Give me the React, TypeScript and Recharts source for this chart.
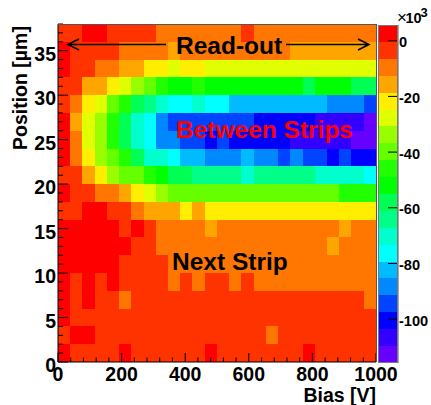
import { Bar, BarChart, XAxis, YAxis } from 'recharts';

const FONT = '"Liberation Sans", Arial, sans-serif';

// z values in units of 10^3, one row per 2 um of position, one entry per bias bin
const row00 = [3, -3, -3, -3, -3, 3, -3, -3, -3, -3, -3, -3, 3, -3, -3, -3, -3, -3, -3, -3, 3, -3, -3, -3, -3, -3];
const row02 = [-3, 3, 3, -3, -3, -3, -3, -3, -3, -3, -3, -3, -3, -3, -3, -3, -3, -9, -3, -3, -3, -3, -3, -3, -3, -3];
const row04 = [3, -3, -3, -3, -3, -3, -3, -3, -3, -3, -3, -3, -3, -3, -3, -3, -3, -3, -3, -3, -3, -3, -3, -3, -3, -3];
const row06 = [3, -3, 3, -3, -3, -9, -3, -3, -3, -3, -3, -3, -3, -3, -3, -3, -3, -3, -3, -3, -3, -3, -3, -3, -3, -9];
const row08 = [3, -3, 3, -3, 3, -3, -3, -3, -3, -9, -3, -9, -3, -3, -9, -3, -9, -9, -9, -9, -9, -9, -9, -9, -9, -9];
const row10 = [3, 3, 3, 3, 3, -3, -3, -3, -3, -9, -9, -9, -9, -9, -9, -9, -9, -9, -9, -9, -9, -9, -9, -9, -9, -9];
const row12 = [3, 3, 3, 3, 3, 3, -3, -3, -9, -9, -9, -9, -9, -9, -9, -9, -9, -9, -9, -9, -9, -9, -15, -9, -9, -9];
const row14 = [3, 3, 3, 3, 3, -3, 3, -3, -9, -9, -9, -9, -15, -9, -9, -9, -9, -9, -9, -9, -9, -9, -9, -15, -9, -9];
const row16 = [-3, -3, 3, 3, -3, -3, -9, -15, -15, -15, -21, -15, -21, -21, -21, -21, -21, -21, -21, -21, -21, -21, -21, -21, -21, -21];
const row18 = [3, -3, -3, -9, -9, -15, -21, -27, -33, -39, -39, -39, -39, -39, -39, -39, -39, -39, -39, -39, -39, -39, -39, -45, -45, -45];
const row20 = [-3, -3, -15, -21, -33, -39, -39, -45, -51, -57, -57, -63, -63, -63, -63, -69, -63, -63, -63, -63, -63, -69, -69, -69, -69, -75];
const row22 = [3, -9, -21, -33, -39, -45, -57, -69, -69, -75, -81, -81, -87, -87, -87, -81, -87, -87, -93, -87, -93, -93, -99, -93, -99, -99];
const row24 = [3, -9, -27, -33, -45, -57, -69, -75, -87, -87, -93, -93, -99, -93, -99, -99, -99, -99, -99, -105, -105, -105, -105, -105, -111, -111];
const row26 = [3, -15, -27, -33, -45, -57, -69, -75, -87, -93, -93, -93, -93, -93, -93, -93, -99, -99, -99, -99, -99, -105, -105, -105, -105, -111];
const row28 = [-3, -9, -21, -27, -39, -45, -57, -63, -69, -75, -75, -69, -75, -75, -81, -81, -81, -81, -81, -81, -81, -81, -87, -87, -87, -93];
const row30 = [-3, -3, -15, -15, -21, -27, -33, -39, -45, -51, -51, -45, -51, -51, -51, -51, -51, -51, -51, -51, -57, -51, -51, -51, -57, -57];
const row32 = [3, -3, -3, -9, -9, -15, -15, -21, -21, -27, -21, -21, -27, -27, -27, -27, -27, -27, -27, -27, -27, -27, -27, -27, -27, -27];
const row34 = [3, -3, -3, -3, -3, -9, -9, -9, -9, -15, -9, -9, -9, -9, -9, -9, -9, -9, -9, -15, -15, -15, -15, -15, -15, -15];
const row36 = [-3, -3, 3, 3, -3, -3, -3, -3, -9, -9, -9, -9, -9, -9, -9, -3, -9, -9, -9, -9, -9, -9, -9, -9, -9, -9];

const positionRows = [row00, row02, row04, row06, row08, row10, row12, row14, row16, row18, row20, row22, row24, row26, row28, row30, row32, row34, row36];

const binWidth = 1000 / 26;
const biasBins = row00.map((_, i) => ({ bias: (i + 0.5) * binWidth }));

const palette = [
  '#ff0000', '#ff3300', '#ff7700', '#ffa500', '#ffee00', '#e0ff00', '#99ff00', '#66ff00', '#22ff00', '#00ff00',
  '#00ff55', '#00ff88', '#00ffcc', '#00ffff', '#00bbff', '#0088ff', '#0044ff', '#0000ff', '#3300ff', '#6600ff',
];

const rowHeight = 2;
const zStep = 6.07;
const zMax = 5.65;
const zMin = zMax - zStep * palette.length;

const biasTicks = [0, 40, 80, 120, 160, 200, 240, 280, 320, 360, 400, 440, 480, 520, 560, 600, 640, 680, 720, 760, 800, 840, 880, 920, 960, 1000];
const positionTicks = [0, 1, 2, 3, 4, 5, 6, 7, 8, 9, 10, 11, 12, 13, 14, 15, 16, 17, 18, 19, 20, 21, 22, 23, 24, 25, 26, 27, 28, 29, 30, 31, 32, 33, 34, 35, 36, 37, 38];
const zTicks = [0, -20, -40, -60, -80, -100];

const mapWidthPx = 318;

const colorOf = (z: number) => palette[Math.min(palette.length - 1, Math.max(0, Math.floor((zMax - z) / zStep)))];

// the bar width recharts gives is floored, so size the cell from its centre and snap it to whole pixels
function PixelCell({ x, y, width, height, fill, fullWidth }: any) {
  const centre = x + width / 2;
  const w = fullWidth ?? width;
  const left = Math.round(centre - w / 2);
  const right = Math.round(centre + w / 2);
  const top = Math.round(Math.min(y, y + height));
  const bottom = Math.round(Math.max(y, y + height));
  return <rect x={left} y={top} width={right - left} height={bottom - top} fill={fill} />;
}

function BiasTick({ x, y, payload }: any) {
  const major = payload.value % 200 === 0;
  return (
    <g>
      <line x1={x} x2={x} y1={y} y2={y - (major ? 9 : 4.5)} stroke="#000" />
      {major && (
        <text x={x} y={y + 19} textAnchor="middle" fontFamily={FONT} fontWeight="bold" fontSize={19.5} fill="#000">
          {payload.value}
        </text>
      )}
    </g>
  );
}

function PositionTick({ x, y, payload }: any) {
  const major = payload.value % 5 === 0;
  return (
    <g>
      <line x1={x} x2={x + (major ? 10 : 5)} y1={y} y2={y} stroke="#000" />
      {major && (
        <text x={x - 2} y={y + 10} textAnchor="end" fontFamily={FONT} fontWeight="bold" fontSize={19.5} fill="#000">
          {payload.value}
        </text>
      )}
    </g>
  );
}

function ZTick({ x, y, payload }: any) {
  return (
    <g>
      <line x1={x} x2={x - 10} y1={y} y2={y} stroke="#000" />
      <text x={x + 1} y={y + 6.5} fontFamily={FONT} fontWeight="bold" fontSize={14.6} fill="#000">
        {payload.value}
      </text>
    </g>
  );
}

function Arrow({ from, to, y }: { from: number; to: number; y: number }) {
  const back = to > from ? to - 11 : to + 11;
  return (
    <path d={`M${from} ${y}H${to}M${back} ${y - 5.5}L${to} ${y}L${back} ${y + 5.5}`} fill="none" stroke="#000" strokeWidth={1.6} />
  );
}

export default function App() {
  return (
    <div style={{ position: 'absolute', left: 0, top: 0, width: 431, height: 405 }}>
      <div style={{ position: 'absolute', left: 0, top: 0 }}>
        <BarChart width={431} height={405} data={biasBins} margin={{ left: 57, top: 24, right: 55, bottom: 42 }} barCategoryGap={0} barGap={0}>
          {positionRows.map((row, r) => (
            <Bar
              key={r}
              xAxisId="bias"
              yAxisId="position"
              dataKey={() => rowHeight}
              stackId="map"
              isAnimationActive={false}
              shape={(props: any) => <PixelCell {...props} fullWidth={mapWidthPx / row.length} fill={colorOf(row[props.index])} />}
            />
          ))}
          <XAxis
            xAxisId="bias"
            dataKey="bias"
            type="number"
            domain={[0, 1000]}
            ticks={biasTicks}
            interval={0}
            height={1}
            tickSize={0}
            tickMargin={0}
            tick={BiasTick}
            tickLine={false}
            axisLine={{ stroke: '#000', strokeWidth: 1 }}
          />
          <YAxis
            yAxisId="position"
            type="number"
            domain={[0, 38]}
            ticks={positionTicks}
            interval={0}
            width={1}
            tickSize={0}
            tickMargin={0}
            tick={PositionTick}
            tickLine={false}
            axisLine={{ stroke: '#000', strokeWidth: 1 }}
          />
        </BarChart>
      </div>
      <div style={{ position: 'absolute', left: 0, top: 0 }}>
        <BarChart width={431} height={405} data={[{ bar: 'z' }]} margin={{ left: 378, top: 25, right: 32, bottom: 42 }} barCategoryGap={0} stackOffset="sign">
          <XAxis dataKey="bar" hide />
          {/* the first level straddles zero, so it takes one span above and one below */}
          <Bar
            yAxisId="z"
            dataKey={() => zMax}
            stackId="bar"
            isAnimationActive={false}
            shape={(props: any) => <PixelCell {...props} fill={palette[0]} />}
          />
          {palette.map((color, i) => (
            <Bar
              key={color}
              yAxisId="z"
              dataKey={() => (i === 0 ? zMax - zStep : -zStep)}
              stackId="bar"
              isAnimationActive={false}
              shape={(props: any) => <PixelCell {...props} fill={color} />}
            />
          ))}
          <YAxis
            yAxisId="z"
            orientation="right"
            type="number"
            domain={[zMin, zMax]}
            ticks={zTicks}
            interval={0}
            width={1}
            tickSize={0}
            tickMargin={0}
            tick={ZTick}
            tickLine={false}
            axisLine={{ stroke: '#555', strokeWidth: 1 }}
          />
        </BarChart>
      </div>
      <svg width={431} height={405} style={{ position: 'absolute', left: 0, top: 0 }} fontFamily={FONT} fontWeight="bold">
        <path d="M58 24.5H376.5V362" fill="none" stroke="#555" shapeRendering="crispEdges" />
        <rect x={378.5} y={25.5} width={19} height={337} fill="none" stroke="#777" shapeRendering="crispEdges" />
        <Arrow from={166} to={68} y={44.5} />
        <Arrow from={286} to={369} y={44.5} />
        <text x={176} y={54} fontSize={24.5}>Read-out</text>
        <text x={176} y={138} fontSize={24.5} fill="#ff0000">Between Strips</text>
        <text x={172} y={270} fontSize={24.5}>Next Strip</text>
        <text x={376} y={402} fontSize={19.5} textAnchor="end">Bias [V]</text>
        <text transform="translate(27,150) rotate(-90)" fontSize={19.5}>Position [µm]</text>
        <text x={397} y={23} fontSize={17} fontWeight="normal">×</text>
        <text x={405.5} y={23} fontSize={14.5}>10</text>
        <text x={420.5} y={17} fontSize={13}>3</text>
      </svg>
    </div>
  );
}
